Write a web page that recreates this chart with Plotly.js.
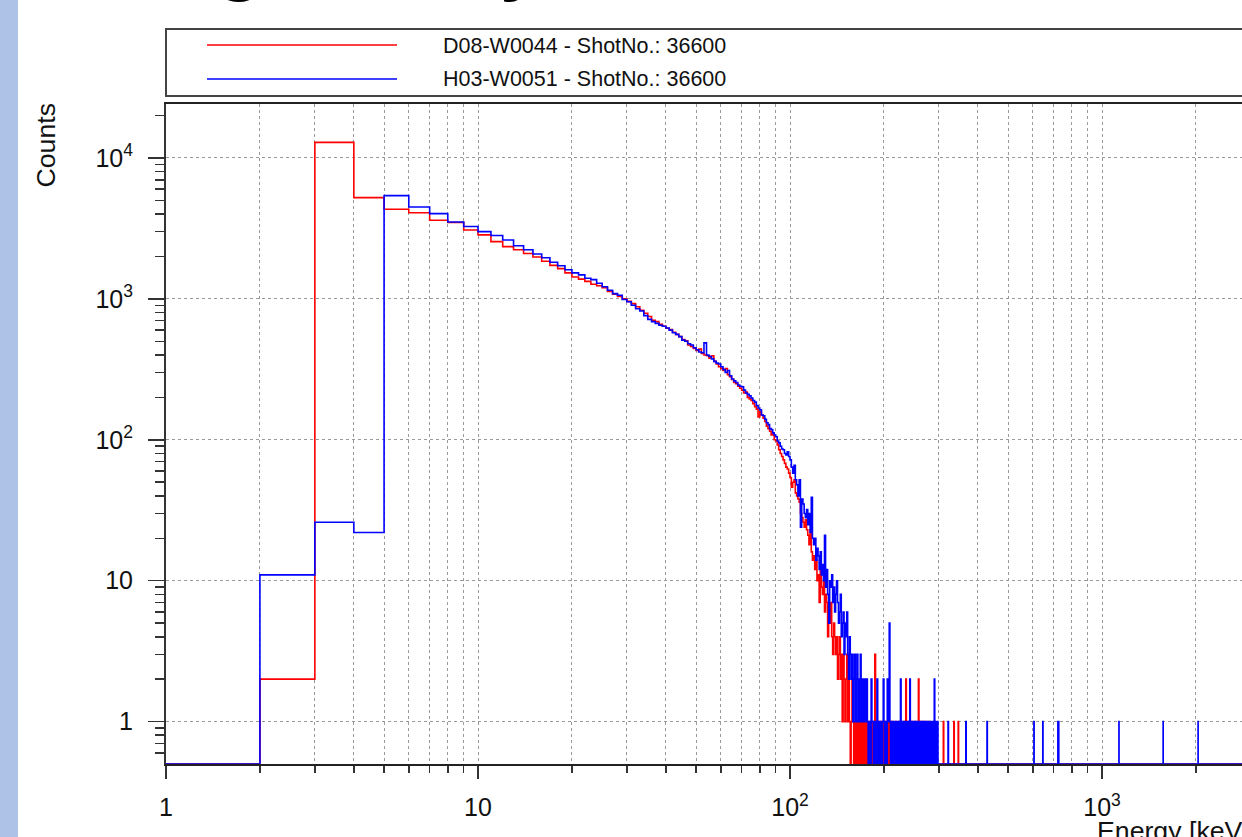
<!DOCTYPE html>
<html>
<head>
<meta charset="utf-8">
<script src="https://cdn.plot.ly/plotly-3.0.1.min.js"></script>
<style>
  html, body { margin: 0; padding: 0; background: #ffffff; overflow: hidden; width: 1242px; height: 837px; }
  #chart { position: absolute; left: 0; top: 0; width: 1300px; height: 837px; }
</style>
</head>
<body>
<div id="chart"></div>
<script>
// ---------------- data (counts per 1 keV bin) ----------------
const seriesNames = ["D08-W0044 - ShotNo.: 36600", "H03-W0051 - ShotNo.: 36600"];
const seriesColors = ["#ff0000", "#0000ff"];

// D08-W0044 counts, bins starting at 1 keV (bin i covers [i, i+1) keV)
const redCounts = [
  0,2,12900,5230,4330,4090,3610,3480,3085,2845,
  2550,2350,2230,2100,1980,1850,1730,1640,1530,1430,
  1380,1330,1270,1240,1200,1130,1080,1040,1000,960,
  925,880,830,790,750,705,690,660,640,618,
  605,580,560,540,515,505,470,460,445,430,
  440,410,400,395,380,395,360,345,330,320,
  310,320,290,280,268,255,250,240,232,225,
  215,218,200,195,190,180,172,165,145,158,
  150,142,135,125,120,115,108,110,100,98,
  92,85,80,76,72,68,64,62,58,54,
  46,50,52,42,40,38,36,30,28,26,
  24,27,23,21,18,23,16,14,15,12,
  14,10,11,7,12,9,8,10,6,8,
  7,4,6,5,7,4,3,5,4,3,
  4,2,3,4,2,3,1,3,2,1,
  2,3,1,2,1,0,1,2,1,0,
  1,0,1,0,1,0,1,0,1,0,
  1,0,1,0,1,0,0,1,0,1,
  0,0,1,0,0,1,3,0,1,0,
  0,1,0,0,1,0,1,0,0,1
];
// D08-W0044 sparse tail above 200 keV: bin energy and count
const redTailE = [202,204,207,210,213,218,223,227,232,235,239,243,246,250,253,258,261,264,268,273,279,310,335,346];
const redTailN = [1,1,1,1,1,1,1,1,1,2,1,1,1,1,1,2,1,1,1,1,1,1,1,1];

// H03-W0051 counts, bins starting at 1 keV
const blueCounts = [
  0,11,26,22,5400,4490,4030,3515,3260,3000,
  2815,2620,2380,2230,2080,1960,1820,1720,1610,1530,
  1480,1400,1370,1290,1220,1150,1090,1060,990,955,
  900,850,820,760,715,690,670,650,640,622,
  600,575,560,540,510,500,480,470,450,435,
  420,415,487,400,390,375,360,350,345,330,
  315,300,310,285,270,262,255,245,240,238,
  225,215,210,205,198,190,185,175,168,163,
  150,148,140,132,128,120,118,112,108,105,
  98,95,90,86,85,80,78,82,76,72,
  64,58,66,52,48,40,52,24,38,35,
  30,28,32,25,30,22,39,20,18,20,
  14,17,15,12,16,11,13,10,21,9,
  12,8,5,10,9,11,7,9,6,8,
  10,7,5,6,8,4,5,6,3,5,
  4,6,3,2,4,3,2,3,1,2,
  3,1,2,3,1,2,1,3,1,2,
  1,1,2,1,1,2,1,0,1,1,
  0,2,1,1,0,1,1,0,1,2,
  0,1,1,0,1,1,0,1,2,1
];
// H03-W0051 sparse tail above 200 keV
const blueTailE = [203,205,206,207,208,209,211,212,214,216,217,219,221,222,224,226,228,230,231,233,236,238,240,242,244,245,247,249,250,252,254,256,257,259,261,263,265,267,268,270,272,275,278,280,283,286,290,293,297,321,366,428,605,646,722,726,1133,1570,2032];
const blueTailN = [1,2,1,1,5,1,1,1,1,1,1,1,1,1,1,2,1,1,1,1,1,1,1,2,1,1,1,1,1,1,1,1,1,1,1,1,1,1,1,1,1,1,1,1,1,1,2,1,1,1,1,1,1,1,1,1,1,1,1];

// axis tick labels
const xTickVals = [1, 10, 100, 1000];
const xTickText = ["1", "10", "10<sup>2</sup>", "10<sup>3</sup>"];
const yTickVals = [1, 10, 100, 1000, 10000];
const yTickText = ["1", "10", "10<sup>2</sup>", "10<sup>3</sup>", "10<sup>4</sup>"];

const xTitle = "Energy [keV]";
const yTitle = "Counts";
const pageTitle = "Timing Study";

// ---------------- build ----------------
const E_MAX = 3003;
const Y_MIN = 0.5;
const Y_MAX_LOG = 4.383;

function buildSteps(counts, tailE, tailN) {
  const n = new Array(E_MAX + 1).fill(0);
  counts.forEach((c, i) => { n[i + 1] = c; });
  tailE.forEach((e, i) => { n[e] = tailN[i]; });
  const xs = [], ys = [];
  for (let e = 1; e < E_MAX; e++) {
    xs.push(e);
    ys.push(n[e] > 0 ? n[e] : Y_MIN);
  }
  xs.push(E_MAX); ys.push(ys[ys.length - 1]);
  return { xs, ys };
}

function minorVals(lo, hi) {
  const v = [];
  for (let d = lo; d <= hi; d++) for (let k = 2; k <= 9; k++) v.push(k * Math.pow(10, d));
  return v;
}

const red = buildSteps(redCounts, redTailE, redTailN);
const blue = buildSteps(blueCounts, blueTailE, blueTailN);

const traces = [
  { x: red.xs, y: red.ys, type: "scatter", mode: "lines", line: { shape: "hv", color: seriesColors[0], width: 1.6 }, name: seriesNames[0], showlegend: false, hoverinfo: "skip" },
  { x: blue.xs, y: blue.ys, type: "scatter", mode: "lines", line: { shape: "hv", color: seriesColors[1], width: 1.6 }, name: seriesNames[1], showlegend: false, hoverinfo: "skip" }
];

// pixel -> paper helpers (plot area 166..1251 x 104..764)
const PL = 166, PR = 1251, PT = 104, PB = 764;
const px = v => (v - PL) / (PR - PL);
const py = v => (PB - v) / (PB - PT);

const FONT = "'Liberation Sans', Arial, Helvetica, sans-serif";

const layout = {
  width: 1300, height: 837,
  margin: { l: PL, r: 1300 - PR, t: PT, b: 837 - PB, pad: 0 },
  paper_bgcolor: "#ffffff", plot_bgcolor: "#ffffff",
  font: { family: FONT, color: "#111111", size: 25 },
  xaxis: {
    type: "log", range: [0, Math.log10(E_MAX)],
    tickmode: "array", tickvals: xTickVals, ticktext: xTickText,
    ticks: "outside", ticklen: 13, tickwidth: 1.5, tickcolor: "#333",
    showline: true, linecolor: "#222", linewidth: 2, mirror: true,
    showgrid: true, gridcolor: "#9a9a9a", gridwidth: 1, griddash: "dot",
    zeroline: false, layer: "below traces",
    ticklabelstandoff: 7,
    tickfont: { size: 25, family: FONT, color: "#111" },
    minor: { tickmode: "array", tickvals: minorVals(0, 3), ticks: "outside", ticklen: 7, tickwidth: 1.5, tickcolor: "#333", showgrid: true, gridcolor: "#9a9a9a", gridwidth: 1, griddash: "dot" }
  },
  yaxis: {
    type: "log", range: [Math.log10(Y_MIN), Y_MAX_LOG],
    tickmode: "array", tickvals: yTickVals, ticktext: yTickText,
    ticks: "outside", ticklen: 16, tickwidth: 1.5, tickcolor: "#333",
    showline: true, linecolor: "#333", linewidth: 2, mirror: true,
    showgrid: true, gridcolor: "#9a9a9a", gridwidth: 1, griddash: "dot",
    zeroline: false, layer: "below traces",
    ticklabelstandoff: 10,
    tickfont: { size: 25, family: FONT, color: "#111" },
    minor: { tickmode: "array", tickvals: [0.6, 0.7, 0.8, 0.9].concat(minorVals(0, 4)), ticks: "outside", ticklen: 9, tickwidth: 1.5, tickcolor: "#333", showgrid: false }
  },
  shapes: [
    // slide side strip
    { type: "rect", xref: "paper", yref: "paper", x0: px(0), x1: px(18), y0: py(900), y1: py(-60), fillcolor: "#adc2e6", line: { width: 0 }, layer: "below" },
    // legend box
    { type: "rect", xref: "paper", yref: "paper", x0: px(166), x1: px(1400), y0: py(96), y1: py(29), fillcolor: "#ffffff", line: { color: "#444", width: 2 } },
    { type: "line", xref: "paper", yref: "paper", x0: px(207), x1: px(397), y0: py(45), y1: py(45), line: { color: seriesColors[0], width: 1.6 } },
    { type: "line", xref: "paper", yref: "paper", x0: px(207), x1: px(397), y0: py(79), y1: py(79), line: { color: seriesColors[1], width: 1.6 } }
  ],
  annotations: [
    { xref: "paper", yref: "paper", x: px(441), y: py(46), xanchor: "left", yanchor: "middle", showarrow: false, text: seriesNames[0], font: { size: 21.5, family: FONT, color: "#111" } },
    { xref: "paper", yref: "paper", x: px(441), y: py(79), xanchor: "left", yanchor: "middle", showarrow: false, text: seriesNames[1], font: { size: 21.5, family: FONT, color: "#111" } },
    { xref: "paper", yref: "paper", x: px(45), y: py(145.5), xanchor: "center", yanchor: "middle", textangle: -90, showarrow: false, text: yTitle, font: { size: 26.7, family: FONT, color: "#111" } },
    { xref: "paper", yref: "paper", x: px(1252), y: py(831), xanchor: "right", yanchor: "middle", showarrow: false, text: xTitle, font: { size: 26.7, family: FONT, color: "#111" } },
    { xref: "paper", yref: "paper", x: px(-31), y: py(-54), xanchor: "left", yanchor: "middle", showarrow: false, text: pageTitle, font: { size: 100, family: FONT, color: "#000" } }
  ]
};

Plotly.newPlot("chart", traces, layout, { staticPlot: true, displayModeBar: false });
</script>
</body>
</html>
